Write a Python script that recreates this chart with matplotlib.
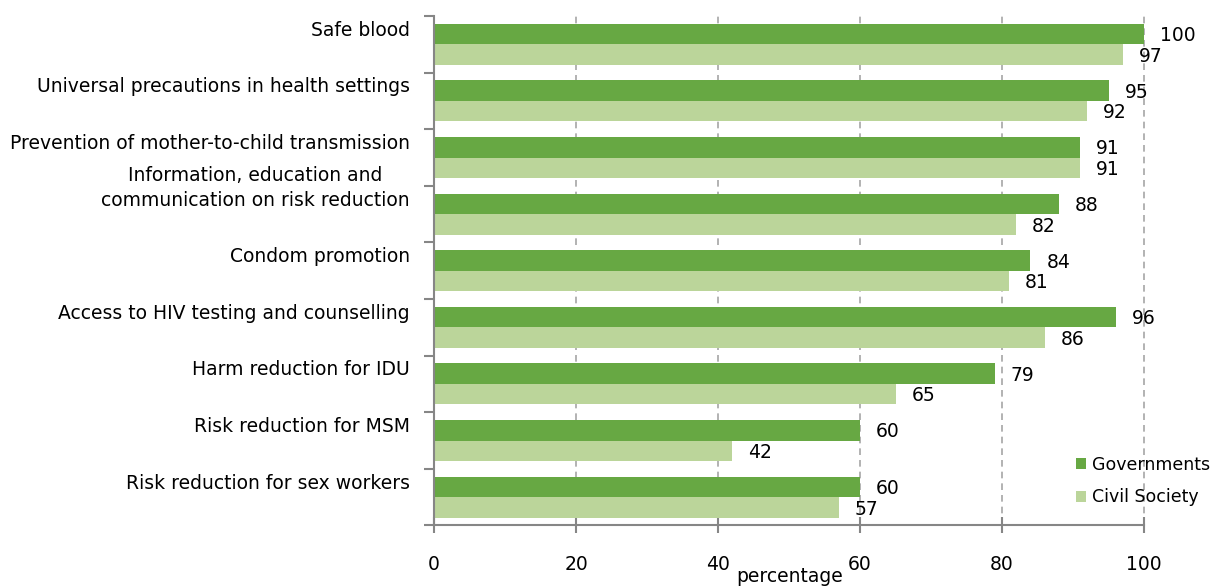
import numpy as np
import matplotlib.pyplot as plt

categorias = [
    "Safe blood",
    "Universal precautions in health settings",
    "Prevention of mother-to-child transmission",
    "Information, education and\ncommunication on risk reduction",
    "Condom promotion",
    "Access to HIV testing and counselling",
    "Harm reduction for IDU",
    "Risk reduction for MSM",
    "Risk reduction for sex workers",
]
gobiernos = [100, 95, 91, 88, 84, 96, 79, 60, 60]
sociedad_civil = [97, 92, 91, 82, 81, 86, 65, 42, 57]
xticks = [0, 20, 40, 60, 80, 100]

verde_oscuro = "#67a843"
verde_claro = "#bbd59a"
gris = "#868686"
fs = 13.5

plt.rcParams["font.family"] = "DejaVu Sans"

fig = plt.figure(figsize=(12.16, 5.88), dpi=100)
ax = fig.add_axes([434 / 1216, 1 - 525.4 / 588, 710 / 1216, 509.4 / 588])

y = np.arange(len(categorias))
alto = 0.362
ax.barh(y - alto / 2, gobiernos, height=alto, color=verde_oscuro, label="Governments", zorder=2)
ax.barh(y + alto / 2, sociedad_civil, height=alto, color=verde_claro, label="Civil Society", zorder=2)

ax.set_xlim(0, 100)
ax.set_ylim(len(categorias) - 0.5, -0.5)

# Etiquetas de valores
px = 100 / 710
for i, (g, s) in enumerate(zip(gobiernos, sociedad_civil)):
    ax.text(g + 16 * px, i - alto / 2 + 0.03, str(g), ha="left", va="center", fontsize=fs, clip_on=False)
    ax.text(s + 16 * px, i + alto / 2 + 0.03, str(s), ha="left", va="center", fontsize=fs, clip_on=False)

# Etiquetas de categorias
for i, c in enumerate(categorias):
    ax.text(-24 / 710, i - alto / 2 + 0.03, c, transform=ax.get_yaxis_transform(),
            ha="right", va="baseline", multialignment="center", linespacing=1.39, fontsize=fs)

ax.set_yticks(np.arange(len(categorias) + 1) - 0.5)
ax.set_yticklabels([])
ax.tick_params(axis="y", direction="out", length=7, color=gris, width=1.5)
ax.set_xticks(xticks)
ax.set_xticklabels([str(t) for t in xticks], fontsize=fs)
ax.tick_params(axis="x", direction="inout", length=12, color=gris, width=1.5, pad=15)

ax.grid(axis="x", color="#a6a6a6", linestyle=(0, (4, 3)), linewidth=1.2, zorder=0)
for linea in ax.get_xgridlines():
    linea.set_clip_on(False)
for lado in ["top", "right"]:
    ax.spines[lado].set_visible(False)
for lado in ["left", "bottom"]:
    ax.spines[lado].set_color(gris)
    ax.spines[lado].set_linewidth(1.5)

fig.text(790 / 1216, 1 - 577 / 588, "percentage", ha="center", va="center", fontsize=fs)

fig.legend(loc="upper left", bbox_to_anchor=(1060 / 1216, 1 - 440 / 588), frameon=False,
           fontsize=12.5, handlelength=0.6, handleheight=0.6, handletextpad=0.35, labelspacing=0.85)

fig.savefig("out.png", dpi=100)
